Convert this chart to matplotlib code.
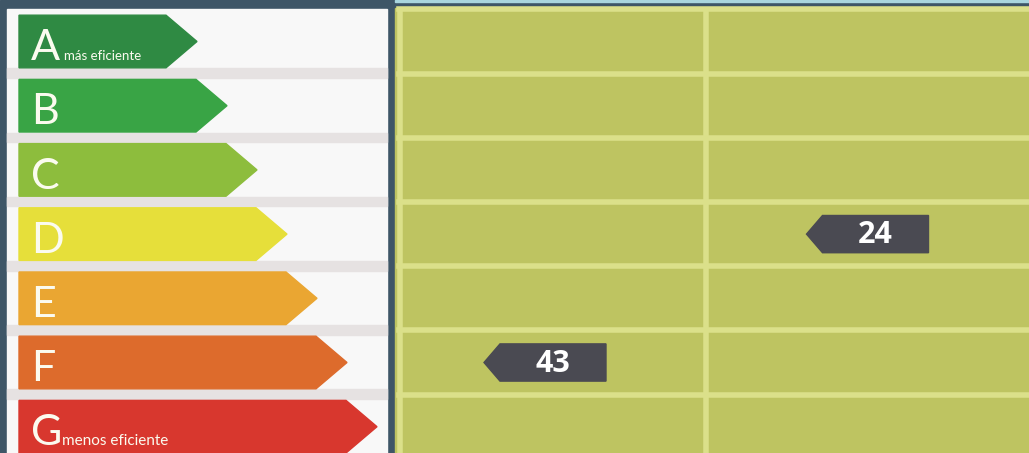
import matplotlib
matplotlib.use("Agg")
import matplotlib.pyplot as plt
from matplotlib.patches import Polygon, Rectangle

# energy classes, top (best) to bottom (worst)
classes = ["A", "B", "C", "D", "E", "F", "G"]
class_colors = ["#2f8a43", "#39a445", "#8dbd3d", "#e6df3a", "#eaa632", "#dd6b2c", "#d8372e"]
class_notes = {"A": "más eficiente", "G": "menos eficiente"}

# rating per column: (class, value)
ratings = [("F", 43), ("D", 24)]

W, H = 1029, 453
ROW0, PITCH = 41.5, 64.2   # pixel centre of first row, row pitch


def row(py):
    # pixel y -> row units
    return (py - ROW0) / PITCH


fig = plt.figure(figsize=(W / 100, H / 100), dpi=100)
ax = fig.add_axes([0, 0, 1, 1])
ax.set_xlim(0, W)
ax.set_ylim(row(H), row(0))
ax.axis("off")

border = "#3e5667"
panel_green = "#bec461"
line_green = "#dbe08a"

# backgrounds
ax.add_patch(Rectangle((0, row(H)), W, row(0) - row(H), color=border, zorder=0))
ax.add_patch(Rectangle((7, row(9)), 380, row(H) - row(9), color="#f8f8f8", zorder=1))
ax.add_patch(Rectangle((395, row(8)), W - 395, row(H) - row(8), color=panel_green, zorder=1))
ax.add_patch(Rectangle((395, row(0)), W - 395, row(2) - row(0), color="#a9d6de", zorder=1))

# grey stripes between arrows on the left panel
for i in range(len(classes)):
    ax.add_patch(Rectangle((7, i + 0.42), 380, 0.15, color="#e6e2e2", zorder=2))

# grid lines on the right panel
for i in range(-1, len(classes) - 1):
    ax.axhline(i + 0.5, xmin=399 / W, xmax=1, color=line_green, lw=4, zorder=2)
for x in [400, 706]:
    ax.plot([x, x], [row(10), row(H)], color=line_green, lw=4, zorder=2)

# class arrows
for i, (c, col) in enumerate(zip(classes, class_colors)):
    tip = 197 + 30 * i
    h = 0.41
    pts = [(19, i - h), (tip - 31, i - h), (tip, i), (tip - 31, i + h), (19, i + h)]
    ax.add_patch(Polygon(pts, closed=True, color=col, zorder=3))
    ax.text(31, i + 0.29, c, color="#fbfbef", fontsize=31, family="Lato",
            fontweight="normal", va="baseline", ha="left", zorder=4)
    if c in class_notes:
        xs = 64 if c == "A" else 62
        ax.text(xs, i + 0.29, class_notes[c], color="#fbfbef",
                fontsize=9.5 if c == "A" else 11, family="Lato",
                va="baseline", ha="left", zorder=4)

# rating markers, centred in each column
col_centres = [(400 + 706) / 2 - 8, (706 + W) / 2]
for (c, v), cx in zip(ratings, col_centres):
    i = classes.index(c)
    h = 0.29
    left, right = cx - 61, cx + 61
    notch = left + 16
    pts = [(left, i), (notch, i - h), (right, i - h), (right, i + h), (notch, i + h)]
    ax.add_patch(Polygon(pts, closed=True, color="#4a4a52", zorder=5))
    ax.text((notch + right) / 2, i + 0.02, str(v), color="white", fontsize=22,
            family="Open Sans", fontweight="bold", ha="center", va="center", zorder=6)

plt.savefig("out.png", dpi=100)
